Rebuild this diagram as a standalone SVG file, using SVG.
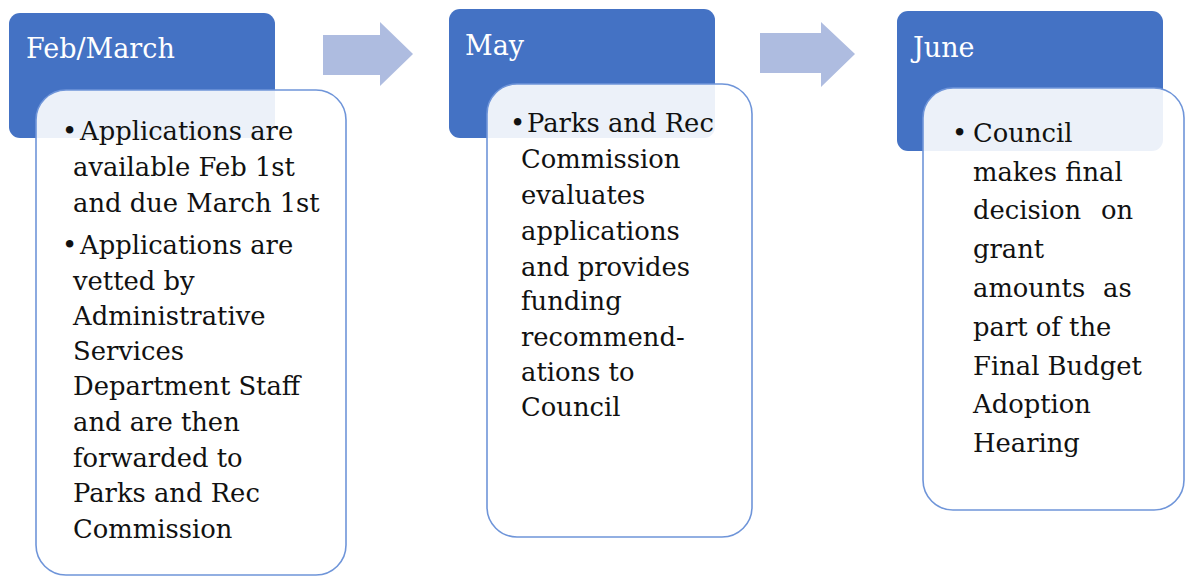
<svg xmlns="http://www.w3.org/2000/svg" width="1185" height="576" viewBox="0 0 1185 576">
<style>
.hdr{fill:#4472C4;}
.card{fill:#ffffff;fill-opacity:0.9;stroke:#6F95D9;stroke-width:1.6;}
.arrow{fill:#AEBCE0;}
.ht{font-family:"DejaVu Serif","Liberation Serif",serif;font-size:27px;fill:#ffffff;}
.bt{font-family:"DejaVu Serif","Liberation Serif",serif;font-size:25.8px;fill:#111111;}
</style>
<rect width="1185" height="576" fill="#ffffff"/>
<g id="connectors">
<polygon class="arrow" points="323,35 380,35 380,22 413,54 380,86 380,75 323,75"/>
<polygon class="arrow" points="760,33 821,33 821,22 855,54 821,87 821,73 760,73"/>
</g>
<g id="node-febmarch">
<rect class="hdr" x="9" y="13" width="266" height="125" rx="11"/>
<text class="ht" x="26" y="58">Feb/March</text>
<rect class="card" x="36" y="90" width="310" height="485" rx="30"/>
<text class="bt">
<tspan x="62" y="140">•</tspan><tspan x="80" y="140">Applications are</tspan>
<tspan x="73" y="176">available Feb 1st</tspan>
<tspan x="73" y="212">and due March 1st</tspan>
<tspan x="62" y="254">•</tspan><tspan x="80" y="254">Applications are</tspan>
<tspan x="73" y="290">vetted by</tspan>
<tspan x="73" y="325">Administrative</tspan>
<tspan x="73" y="360">Services</tspan>
<tspan x="73" y="395">Department Staff</tspan>
<tspan x="73" y="431">and are then</tspan>
<tspan x="73" y="467">forwarded to</tspan>
<tspan x="73" y="502">Parks and Rec</tspan>
<tspan x="73" y="538">Commission</tspan>
</text>
</g>
<g id="node-may">
<rect class="hdr" x="449" y="9" width="266" height="129" rx="11"/>
<text class="ht" x="465" y="55">May</text>
<rect class="card" x="487" y="84" width="265" height="453" rx="30"/>
<text class="bt">
<tspan x="510" y="132">•</tspan><tspan x="527" y="132">Parks and Rec</tspan>
<tspan x="521" y="168">Commission</tspan>
<tspan x="521" y="204">evaluates</tspan>
<tspan x="521" y="240">applications</tspan>
<tspan x="521" y="276">and provides</tspan>
<tspan x="521" y="310">funding</tspan>
<tspan x="521" y="346">recommend-</tspan>
<tspan x="521" y="381">ations to</tspan>
<tspan x="521" y="416">Council</tspan>
</text>
</g>
<g id="node-june">
<rect class="hdr" x="897" y="11" width="266" height="140" rx="11"/>
<text class="ht" x="913" y="57">June</text>
<rect class="card" x="923" y="88" width="261" height="422" rx="30"/>
<text class="bt">
<tspan x="952" y="142">•</tspan><tspan x="973" y="142">Council</tspan>
<tspan x="973" y="181">makes final</tspan>
<tspan x="973" y="219">decision</tspan><tspan x="1101" y="219">on</tspan>
<tspan x="973" y="258">grant</tspan>
<tspan x="973" y="297">amounts</tspan><tspan x="1103" y="297">as</tspan>
<tspan x="973" y="336">part of the</tspan>
<tspan x="973" y="375">Final Budget</tspan>
<tspan x="973" y="413">Adoption</tspan>
<tspan x="973" y="452">Hearing</tspan>
</text>
</g>
</svg>
